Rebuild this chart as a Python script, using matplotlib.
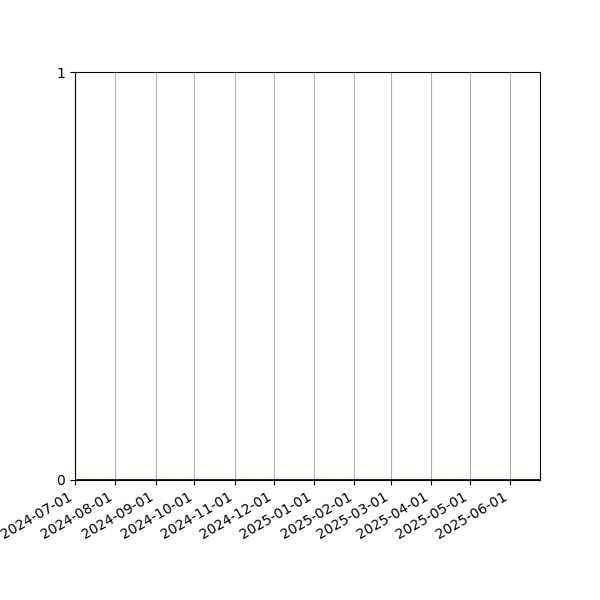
import matplotlib
matplotlib.use("Agg")
import matplotlib.pyplot as plt
import matplotlib.dates as mdates
import pandas as pd

dates = pd.to_datetime(["2024-07-01", "2025-06-24"])
values = [0, 0]
tick_dates = pd.date_range("2024-07-01", "2025-06-01", freq="MS")

fig, ax = plt.subplots(figsize=(6, 6), dpi=100)
ax.plot(dates, values, color="darkblue", linewidth=2)
ax.set_xlim(dates[0], dates[-1])
ax.set_ylim(0, 1)
ax.set_yticks([0, 1])
ax.set_xticks(tick_dates)
ax.xaxis.set_major_formatter(mdates.DateFormatter("%Y-%m-%d"))
ax.grid(axis="x", color="#b0b0b0")
fig.autofmt_xdate()

fig.savefig("out.png", dpi=100)
